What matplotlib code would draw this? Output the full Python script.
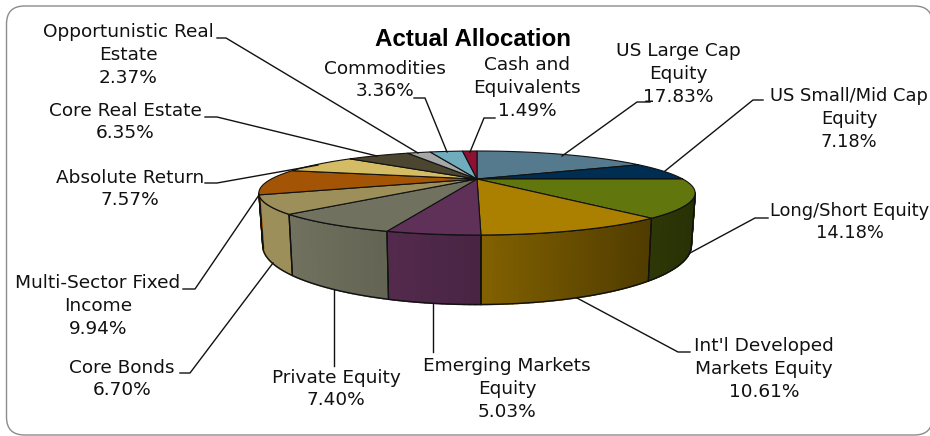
import numpy as np
import matplotlib
matplotlib.use("Agg")
import matplotlib.pyplot as plt
from matplotlib.patches import FancyBboxPatch, Polygon
from matplotlib.collections import PolyCollection

title = "Actual Allocation"
categories = ["US Large Cap\nEquity", "US Small/Mid Cap\nEquity", "Long/Short Equity",
              "Int'l Developed\nMarkets Equity", "Emerging Markets\nEquity", "Private Equity",
              "Core Bonds", "Multi-Sector Fixed\nIncome", "Absolute Return", "Core Real Estate",
              "Opportunistic Real\nEstate", "Commodities", "Cash and\nEquivalents"]
values = [17.83, 7.18, 14.18, 10.61, 5.03, 7.40, 6.70, 9.94, 7.57, 6.35, 2.37, 3.36, 1.49]
colors = ["#557A8E", "#002D52", "#62760E", "#AB8000", "#5F3058", "#71715F", "#9C8F5A",
          "#A35505", "#D3BC64", "#4C4630", "#A6A8A8", "#6FADBE", "#8E1033"]

# label centres, font sizes and leader paths (figure pixels)
label_xy = [(678, 74), (849, 119), (850, 222), (764, 369), (507, 389), (336, 389),
            (122, 379), (98, 306), (130, 189), (125, 122), (128, 55), (385, 80), (527, 88)]
label_sizes = [13.3, 12.9, 12.9, 13.3, 13.3, 13.3, 13.3, 13.3, 13.3, 13.3, 13.3, 13.3, 13.3]
leaders = [[(650, 102), (637, 102), (562, 156)],
           [(763, 100), (753, 100), (665, 171)],
           [(768, 218), (755, 218), (690, 253)],
           [(690, 352), (678, 352), (577, 298)],
           [(433, 352), (433, 304)],
           [(334, 366), (334, 290)],
           [(180, 373), (190, 373), (273, 263)],
           [(183, 289), (195, 289), (259, 195)],
           [(205, 183), (217, 183), (318, 165)],
           [(205, 117), (217, 117), (377, 156)],
           [(217, 38), (226, 38), (418, 153)],
           [(414, 98), (425, 98), (447, 152)],
           [(495, 118), (484, 118), (470, 152)]]

plt.rcParams["font.family"] = ["DejaVu Sans"]
fig = plt.figure(figsize=(9.30, 4.36), dpi=100)
ax = fig.add_axes([0, 0, 1, 1])
ax.set_xlim(0, 930)
ax.set_ylim(436, 0)
ax.axis("off")

ax.add_patch(FancyBboxPatch((24.5, 24), 890, 393, boxstyle="round,pad=18,rounding_size=18",
                            fc="white", ec="#8C8C8C", lw=1.0, clip_on=True))

CX, D = 477.0, 3.0
def top(t):
    u, v = np.sin(t), -np.cos(t)
    return CX + 617 * u / (D - v), 179 + 112 * v / (D - v)
def bot(t):
    u, v = np.sin(t), -np.cos(t)
    return CX + 606 * u / (D - v), 226 + 157 * v / (D - v)
def shade(x):
    return np.interp(x, [290, 481, 650, 690], [1.0, 0.76, 0.47, 0.42])

edges = np.cumsum([0] + values) / sum(values) * 2 * np.pi
t_lo = np.pi - np.arccos(1 / D)
t_hi = np.pi + np.arccos(1 / D)

for i, c in enumerate(colors):
    a, b = max(edges[i], t_lo), min(edges[i + 1], t_hi)
    if b <= a:
        continue
    ts = np.linspace(a, b, max(int((b - a) * 60), 2))
    quads, cols = [], []
    base = np.array(matplotlib.colors.to_rgb(c))
    for t0, t1 in zip(ts[:-1], ts[1:]):
        quads.append([top(t0), top(t1), bot(t1), bot(t0)])
        cols.append(base * shade(top((t0 + t1) / 2)[0]))
    ax.add_collection(PolyCollection(quads, facecolors=cols, edgecolors=cols, linewidths=1.2,
                                     zorder=2))
    xt, yt = top(ts)
    xb, yb = bot(ts)
    ax.add_patch(Polygon(np.c_[np.r_[xt, xb[::-1]], np.r_[yt, yb[::-1]]], closed=True,
                         fc="none", ec="#111111", lw=1.0, zorder=3, joinstyle="round"))

for i, c in enumerate(colors):
    ts = np.linspace(edges[i], edges[i + 1], max(int((edges[i + 1] - edges[i]) * 60), 4))
    xt, yt = top(ts)
    ax.add_patch(Polygon(np.c_[np.r_[CX, xt], np.r_[179, yt]], closed=True,
                         fc=c, ec="#111111", lw=0.8, zorder=4, joinstyle="round"))

for name, val, (x, y), fs, path in zip(categories, values, label_xy, label_sizes, leaders):
    ax.text(x, y, f"{name}\n{val:.2f}%", ha="center", va="center", fontsize=fs,
            color="#111111", linespacing=1.33, zorder=6)
    p = np.array(path)
    ax.plot(p[:, 0], p[:, 1], color="#111111", lw=1.0, zorder=5, solid_joinstyle="round")

ax.text(473, 39, title, ha="center", va="center", fontsize=17.4, fontweight="bold",
        family="Liberation Sans", color="black", zorder=6)
fig.savefig("out.png", dpi=100)
